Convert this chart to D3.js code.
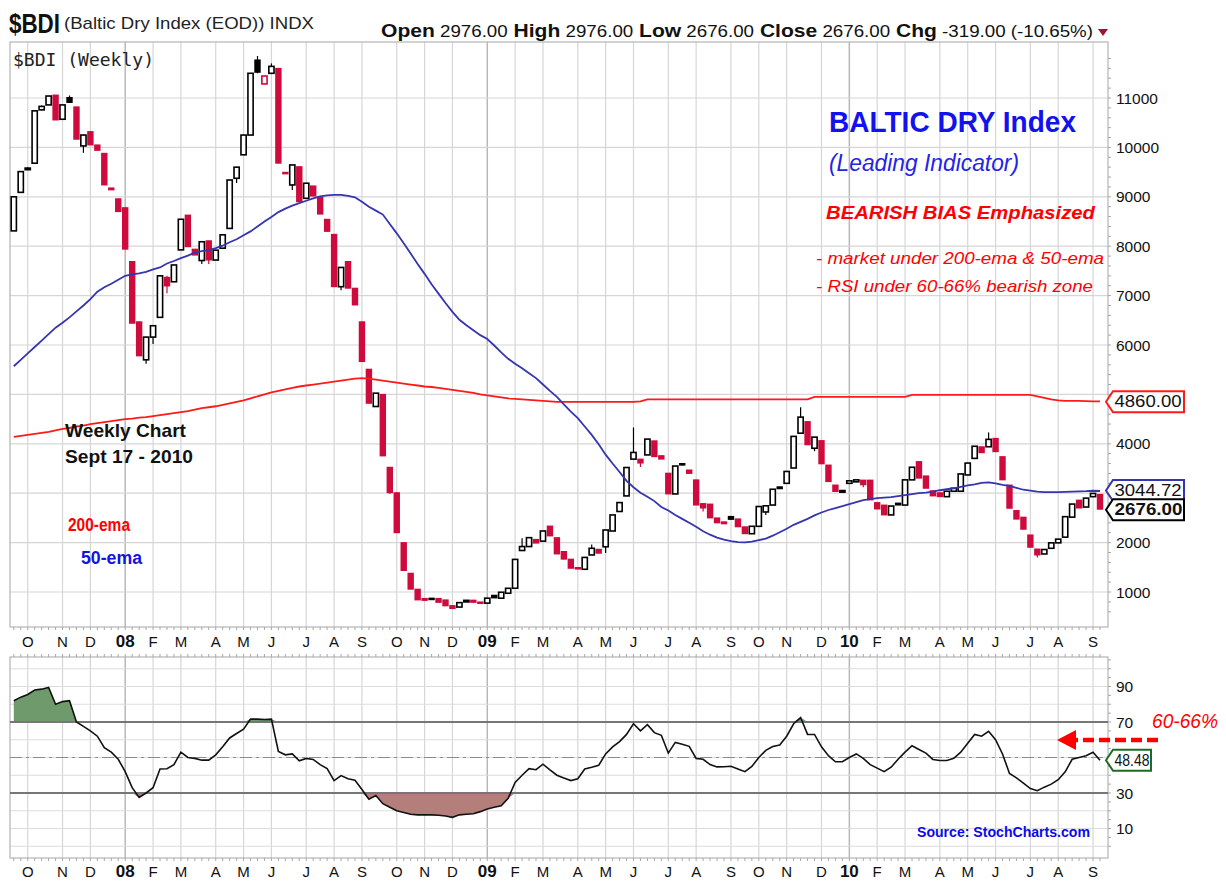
<!DOCTYPE html>
<html><head><meta charset="utf-8">
<script src="https://cdn.jsdelivr.net/npm/d3@7"></script>
<style>
html,body{margin:0;padding:0;background:#fff;}
svg{display:block;font-family:"Liberation Sans",Arial,sans-serif;}
</style></head><body>
<svg id="chart" width="1226" height="890"></svg>
<script>
// ---------------- DATA (weekly, Mon 17 Sep 2007 .. Mon 13 Sep 2010) ----------------
const firstWeek = "2007-09-17";
const usMondayHolidays = ["2010-05-31"]; // weekly bar dated by first trading day
const opens = [8310,9090,9550,9680,10760,10860,11060,10570,11010,10820,10030,10320,10050,9880,9180,8960,
 8780,7690,6470,5700,6160,6560,7370,7280,7925,8630,7940,7710,8110,7720,7960,8360,
 9375,9850,10250,11770,11285,11500,11600,9490,9240,9610,8970,9220,9000,8545,8240,7180,
 7690,7150,6470,5510,4755,5000,3525,3010,2000,1380,1057,870,875,870,840,725,
 695,800,835,790,775,935,875,975,1076,1840,1920,2065,2030,2335,2100,1820,
 1665,1490,1460,1750,1865,1915,2235,2630,2945,3690,3690,3775,4060,3760,3405,2985,
 3600,3470,3270,2790,2780,2500,2420,2530,2480,2320,2180,2330,2620,2760,3130,3200,
 3510,4215,4450,3910,4065,3570,3165,3035,3200,3230,3265,3265,2810,2760,2560,2800,
 2760,3270,3640,3350,3050,3010,2930,3040,3040,3370,3705,3940,3940,4110,3740,3165,
 2650,2515,2155,1870,1770,1885,1995,2110,2515,2860,2720,2930,2976];
const highs = [9000,9510,9600,10740,10850,11040,11060,10860,11050,10820,10260,10320,10050,9880,9180,8960,
 8780,7690,6470,6160,6400,7400,7400,7620,8545,8630,7940,8090,8110,7920,8230,9340,
 9600,10250,11500,11850,11450,11700,11600,9490,9645,9610,9275,9220,9000,8545,8240,7570,
 7690,7150,6470,5510,5025,5000,3525,3010,2000,1380,1057,870,875,870,840,725,
 785,830,835,790,875,935,995,1075,1660,2090,2100,2065,2235,2335,2100,1820,
 1665,1490,1700,1960,1865,2255,2560,2810,3520,4330,3690,4095,4060,3760,3405,3550,
 3600,3470,3270,2790,2780,2500,2420,2530,2480,2320,2330,2730,2745,3080,3130,3440,
 4150,4740,4450,4135,4065,3570,3165,3050,3250,3270,3265,3265,2810,2760,2740,2800,
 3270,3525,3640,3350,3050,3010,3040,3100,3390,3610,3950,3940,4230,4110,3740,3165,
 2650,2515,2155,1870,1860,1995,2070,2525,2780,2860,2900,2995,2976];
const lows = [8310,9090,9540,9680,10750,10860,10555,10570,10900,10165,9890,10050,9940,9240,9140,8700,
 7940,6440,5780,5620,6020,6560,7050,7280,7925,7990,7820,7640,7640,7720,7960,8360,
 9280,9850,10250,11500,11280,11500,9680,9460,9140,8900,8970,9015,8650,8300,7180,7110,
 7150,6810,5665,4820,4755,3755,2990,2200,1435,1057,840,830,845,790,720,665,
 695,800,790,775,775,880,875,975,1076,1840,1920,1990,2030,2135,1770,1665,
 1480,1470,1460,1750,1785,1790,2235,2630,2945,3690,3530,3775,3740,3690,2985,2985,
 3560,3400,2760,2630,2500,2400,2380,2470,2320,2180,2180,2330,2560,2760,3090,3200,
 3510,4215,3980,3850,3595,3235,3035,3020,3200,3230,3120,2865,2680,2560,2560,2760,
 2760,3270,3305,3100,2945,2930,2930,3040,3040,3370,3705,3820,3940,3840,3270,2695,
 2475,2270,1905,1700,1770,1885,1995,2110,2515,2700,2720,2930,2676];
const closes = [9000,9510,9580,10740,10830,11040,10555,10860,10910,10165,10250,10050,9940,9240,9140,8700,
 7940,6440,5780,6160,6390,7400,7195,7620,8545,7990,7820,8090,7720,7920,8230,9340,
 9600,10250,11500,11520,11445,11640,9680,9470,9645,8900,9275,9015,8650,8300,7180,7570,
 7150,6810,5665,4820,5025,3755,3010,2200,1435,1057,840,830,845,790,720,665,
 785,830,790,775,875,880,995,1075,1660,1920,2100,1990,2235,2135,1770,1665,
 1480,1470,1700,1885,1785,2255,2560,2810,3520,3825,3610,4095,3740,3690,2985,3550,
 3570,3400,2760,2700,2500,2400,2380,2470,2320,2180,2330,2730,2745,3080,3090,3440,
 4150,4540,3980,4135,3595,3235,3035,3040,3250,3270,3170,2865,2680,2560,2740,2760,
 3270,3525,3305,3100,2945,2930,3040,3100,3390,3610,3950,3820,4090,3840,3270,2695,
 2475,2270,1905,1750,1860,1995,2070,2525,2780,2700,2900,2995,2676];
const ema50 = [5570,5700,5830,5960,6090,6220,6350,6450,6560,6680,6800,6930,7080,7170,7240,7320,
 7400,7430,7450,7480,7530,7570,7650,7700,7760,7810,7870,7900,7920,7960,8010,8080,
 8140,8220,8300,8400,8500,8590,8690,8760,8820,8870,8920,8970,9010,9030,9040,9040,
 9020,8990,8900,8800,8720,8640,8450,8260,8060,7850,7640,7440,7230,7040,6850,6670,
 6510,6400,6300,6200,6120,5990,5850,5720,5620,5530,5430,5330,5200,5070,4950,4800,
 4650,4520,4350,4180,3990,3780,3600,3430,3250,3120,3010,2930,2840,2720,2650,2560,
 2480,2400,2320,2230,2160,2100,2060,2030,2010,2005,2020,2050,2080,2140,2210,2280,
 2360,2420,2480,2550,2610,2660,2700,2740,2780,2820,2860,2880,2900,2910,2920,2940,
 2960,2980,3000,3010,3030,3060,3080,3100,3130,3160,3180,3210,3220,3200,3170,3150,
 3110,3070,3050,3030,3020,3020,3020,3025,3030,3035,3040,3050,3045];
const ema200 = [4140,4160,4180,4200,4220,4240,4270,4300,4320,4350,4370,4400,4420,4440,4460,4480,
 4500,4510,4530,4540,4560,4580,4600,4620,4640,4660,4690,4720,4740,4760,4790,4820,
 4850,4880,4920,4960,5000,5040,5070,5100,5130,5160,5180,5200,5220,5240,5260,5280,
 5300,5320,5330,5320,5300,5280,5260,5240,5220,5200,5180,5160,5150,5130,5110,5090,
 5070,5050,5030,5000,4980,4960,4940,4920,4910,4900,4890,4880,4870,4860,4850,4850,
 4850,4850,4850,4850,4850,4850,4850,4850,4850,4850,4860,4900,4900,4900,4900,4900,
 4900,4900,4900,4900,4900,4900,4900,4900,4900,4900,4900,4900,4900,4900,4900,4900,
 4900,4900,4900,4950,4950,4950,4950,4950,4950,4950,4950,4950,4950,4950,4950,4950,
 4950,4990,4990,4990,4990,4990,4990,4990,4990,4990,4990,4990,4990,4990,4990,4990,
 4990,4990,4990,4960,4930,4900,4880,4870,4870,4870,4865,4860,4860];
const rsi = [82,84,85.5,88,88.5,89.5,80,81.5,82,70,67.5,65,62,55.5,53,49,
 42,33,27.5,30,33,43.5,43.7,46,53,50,49.5,48.5,48.5,51.5,56,61,
 63.5,66,71.6,71.6,71.4,71.6,53.4,51.5,52,48.1,49.5,48.9,46,43.7,37,39.8,
 38,37.2,32,26.5,28.6,24,22,20,19,18,17.7,17.7,17.7,17.5,17,16.3,
 17.7,18,18.3,19.5,21,22,22.8,27,36,40,43.7,43.1,46.2,43,40,38.5,
 37,38,43.5,44.5,45.6,52,56,59,63,69,65,68.5,64,62.5,52.5,58.5,
 57.5,56.3,49.5,49,46,44.7,44.8,45.1,43.5,42,45,50,54,56.2,57,62,
 69,72.5,63,63,56,51,47.6,47.6,50,52,49.5,46,44,42,44.5,49,
 53,56.6,54.5,52.5,48.9,48.3,48.3,49.5,53,58,63,62,64.8,60,52,41,
 38.5,35.5,32.5,31.3,33.3,35,37.5,41.9,49,50,51,53,48.48];

const priceTicks = [1000,2000,3000,4000,5000,6000,7000,8000,9000,10000,11000];
const rsiTicks = [90,70,30,10];
const rsiGrid = [0,10,20,30,40,50,60,70,80,90,100];
const monthLetters = ["J","F","M","A","M","J","J","A","S","O","N","D"];
const headerItems = [["Open","2976.00"],["High","2976.00"],["Low","2676.00"],["Close","2676.00"],["Chg","-319.00 (-10.65%)"]];
const tagValues = {ema200: 4860.00, ema50: 3044.72, close: 2676.00, rsi: 48.48};

// ---------------- LAYOUT ----------------
const svg = d3.select("#chart");
const RED = "#cf0a3c";
const P = {left:10, right:1108, top:42, bottom:627};
const R = {top:657, bottom:858};
const n = closes.length;

const parse = d3.timeParse("%Y-%m-%d");
const fmt = d3.timeFormat("%Y-%m-%d");
const dates = d3.range(n).map(i => {
  let d = d3.timeMonday.offset(parse(firstWeek), i);
  if (usMondayHolidays.includes(fmt(d))) d = d3.timeDay.offset(d, 1);
  return d;
});

const x = d3.scalePoint().domain(d3.range(n)).range([13.8, 1100]);
const y = d3.scaleLinear().domain([1000, 11000]).range([592, 98]);
const yr = d3.scaleLinear().domain([30, 70]).range([793, 722]);

const months = [];
for (let i = 1; i < n; i++) {
  if (dates[i].getMonth() !== dates[i-1].getMonth()) {
    const m = dates[i].getMonth();
    months.push({i, label: m === 0 ? d3.timeFormat("%y")(dates[i]) : monthLetters[m], year: m === 0});
  }
}

const defs = svg.append("defs");
defs.append("clipPath").attr("id","pclip").append("rect")
  .attr("x",P.left).attr("y",P.top).attr("width",P.right-P.left).attr("height",P.bottom-P.top);
defs.append("clipPath").attr("id","rclip").append("rect")
  .attr("x",P.left).attr("y",R.top).attr("width",P.right-P.left).attr("height",R.bottom-R.top);

// ---- grids ----
const grid = svg.append("g");
[[P.top,P.bottom],[R.top,R.bottom]].forEach(([t,b]) => {
  grid.selectAll(null).data(months).enter().append("line")
    .attr("x1",d=>x(d.i)).attr("x2",d=>x(d.i)).attr("y1",t).attr("y2",b)
    .attr("stroke",d=>d.year?"#b8b8b8":"#d6d6d6").attr("stroke-width",d=>d.year?1.5:1.2);
});
grid.selectAll(null).data(priceTicks).enter().append("line")
  .attr("x1",P.left).attr("x2",P.right).attr("y1",d=>y(d)).attr("y2",d=>y(d))
  .attr("stroke","#d6d6d6").attr("stroke-width",1.2);
grid.selectAll(null).data(rsiGrid).enter().append("line")
  .attr("x1",P.left).attr("x2",P.right).attr("y1",d=>yr(d)).attr("y2",d=>yr(d))
  .attr("stroke","#dcdcdc").attr("stroke-width",1.2);

svg.append("rect").attr("x",P.left).attr("y",P.top).attr("width",P.right-P.left).attr("height",P.bottom-P.top)
  .attr("fill","none").attr("stroke","#b4b4b4").attr("stroke-width",1.2);
svg.append("rect").attr("x",P.left).attr("y",R.top).attr("width",P.right-P.left).attr("height",R.bottom-R.top)
  .attr("fill","none").attr("stroke","#b4b4b4").attr("stroke-width",1.2);

// weekly tick marks
const ticks = svg.append("g").attr("stroke","#a8a8a8").attr("stroke-width",1);
d3.range(n).forEach(i => {
  ticks.append("line").attr("x1",x(i)).attr("x2",x(i)).attr("y1",P.bottom).attr("y2",P.bottom+3);
  ticks.append("line").attr("x1",x(i)).attr("x2",x(i)).attr("y1",R.top-3).attr("y2",R.top);
  ticks.append("line").attr("x1",x(i)).attr("x2",x(i)).attr("y1",R.bottom).attr("y2",R.bottom+3);
});
d3.range(600, 12000, 200).forEach(v => {
  if (y(v) > P.top && y(v) < P.bottom)
    ticks.append("line").attr("x1",P.right).attr("x2",P.right+3).attr("y1",y(v)).attr("y2",y(v));
});
d3.range(0, 106, 5).forEach(v => {
  ticks.append("line").attr("x1",P.right).attr("x2",P.right+3).attr("y1",yr(v)).attr("y2",yr(v));
});

// ---- price panel ----
const pg = svg.append("g").attr("clip-path","url(#pclip)");
pg.selectAll("g.c").data(d3.range(n)).enter().append("g").each(function(i){
  const g = d3.select(this);
  const o = opens[i], c = closes[i], h = highs[i], l = lows[i];
  const prev = i > 0 ? closes[i-1] : o;
  const col = c >= prev ? "#000" : RED;
  const hollow = c > o;
  const cx = x(i);
  g.append("line").attr("x1",cx).attr("x2",cx).attr("y1",y(h)).attr("y2",y(l))
    .attr("stroke",col).attr("stroke-width",1.2);
  let top = y(Math.max(o,c)), bot = y(Math.min(o,c));
  if (bot - top < 1.6) { const m=(top+bot)/2; top=m-0.8; bot=m+0.8; }
  if (hollow) {
    g.append("rect").attr("x",cx-2.6).attr("y",top).attr("width",5.2).attr("height",bot-top)
      .attr("fill","#fff").attr("stroke",col).attr("stroke-width",1.6);
  } else {
    g.append("rect").attr("x",cx-3.2).attr("y",top-0.5).attr("width",6.4).attr("height",bot-top+1)
      .attr("fill",col);
  }
});
const lineP = d3.line().x((d,i)=>x(i)).y(d=>y(d));
pg.append("path").datum(ema200).attr("d",lineP).attr("fill","none").attr("stroke","#ff1a1a").attr("stroke-width",1.8);
pg.append("path").datum(ema50).attr("d",lineP).attr("fill","none").attr("stroke","#3535b0").attr("stroke-width",1.8);

// ---- RSI panel ----
const rg = svg.append("g").attr("clip-path","url(#rclip)");
rg.append("path").datum(rsi)
  .attr("d", d3.area().x((d,i)=>x(i)).y0(yr(70)).y1(d=>yr(Math.max(d,70))))
  .attr("fill","#6e9a6c");
rg.append("path").datum(rsi)
  .attr("d", d3.area().x((d,i)=>x(i)).y0(yr(30)).y1(d=>yr(Math.min(d,30))))
  .attr("fill","#b47e7a");
[70,30].forEach(v => rg.append("line").attr("x1",P.left).attr("x2",P.right).attr("y1",yr(v)).attr("y2",yr(v))
  .attr("stroke","#767676").attr("stroke-width",2));
rg.append("line").attr("x1",P.left).attr("x2",P.right).attr("y1",yr(50)).attr("y2",yr(50))
  .attr("stroke","#8c8c8c").attr("stroke-width",1.2).attr("stroke-dasharray","12,4,3,4");
rg.append("path").datum(rsi).attr("d", d3.line().x((d,i)=>x(i)).y(d=>yr(d)))
  .attr("fill","none").attr("stroke","#111").attr("stroke-width",1.6);

// ---- text helper ----
const T = (g, px, py, str, o={}) => {
  const t = g.append("text").attr("x",px).attr("y",py).text(str)
    .attr("font-size",o.size||15).attr("fill",o.fill||"#111");
  if (o.weight) t.attr("font-weight",o.weight);
  if (o.style) t.attr("font-style",o.style);
  if (o.family) t.attr("font-family",o.family);
  if (o.anchor) t.attr("text-anchor",o.anchor);
  if (o.len) t.attr("textLength",o.len).attr("lengthAdjust","spacingAndGlyphs");
  return t;
};

// ---- axis labels ----
const ax = svg.append("g");
[647, 877].forEach(by => {
  months.forEach(m => T(ax, x(m.i), by, m.label, {anchor:"middle", size: m.year?17:15, weight: m.year?"bold":null}));
});
// price labels that sit under a value tag are hidden by that tag in the reference
const tagYs = [y(tagValues.ema200), y(tagValues.ema50), y(tagValues.close)];
priceTicks.filter(v => tagYs.every(ty => Math.abs(y(v) - ty) > 11))
  .forEach(v => T(ax, 1116, y(v)+5.5, d3.format("d")(v), {size:15.5}));
rsiTicks.forEach(v => T(ax, 1116, yr(v)+5.5, String(v), {size:15.5}));

// ---- value tags ----
function tag(cy, text, stroke, opt={}) {
  const g = svg.append("g");
  const x0 = 1106, x1 = 1113, x2 = opt.right || 1184, h = opt.h || 10.5;
  g.append("path").attr("d",`M${x0},${cy} L${x1},${cy-h} L${x2},${cy-h} L${x2},${cy+h} L${x1},${cy+h} Z`)
    .attr("fill","#fff").attr("stroke",stroke).attr("stroke-width",2);
  T(g, x1+1.5, cy+5.5, text, {size: opt.size||16, weight: opt.bold?"bold":null, len: opt.len});
}
tag(y(tagValues.ema200)+0.5, d3.format(".2f")(tagValues.ema200), "#ff1a1a", {len:67});
tag(y(tagValues.ema50)-0.5, d3.format(".2f")(tagValues.ema50), "#3535b0", {len:67});
tag(y(tagValues.close)+0.5, d3.format(".2f")(tagValues.close), "#000", {bold:true, len:68, size:17});
tag(yr(tagValues.rsi), d3.format(".2f")(tagValues.rsi), "#1f6b26", {right:1151, len:35, size:16.5});

// ---- header ----
T(svg, 9, 33, "$BDI", {size:27, weight:"bold", len:51});
T(svg, 64, 29, "(Baltic Dry Index (EOD)) INDX", {size:17, len:250, fill:"#222"});
const hdr = svg.append("text").attr("x",381).attr("y",37).attr("fill","#111")
  .attr("textLength",712).attr("lengthAdjust","spacingAndGlyphs");
headerItems.forEach((d,k) => {
  hdr.append("tspan").attr("font-weight","bold").attr("font-size",18).text((k?"  ":"")+d[0]);
  hdr.append("tspan").attr("font-size",16).text(" "+d[1]);
});
svg.append("path").attr("d","M1098,29 L1108,29 L1103,36 Z").attr("fill","#a0103a");
T(svg, 13, 66, "$BDI (Weekly)", {size:17, family:"DejaVu Sans Mono", len:141, fill:"#222"});

// ---- annotations ----
T(svg, 829, 132, "BALTIC DRY Index", {size:30, weight:"bold", fill:"#1212ee", len:247});
T(svg, 829, 171, "(Leading Indicator)", {size:23, style:"italic", fill:"#2424e6", len:190});
T(svg, 826, 219, "BEARISH BIAS Emphasized", {size:19, weight:"bold", style:"italic", fill:"#ff0000", len:269});
T(svg, 816, 264, "- market under 200-ema & 50-ema", {size:17, style:"italic", fill:"#ff0000", len:288});
T(svg, 816, 292, "- RSI under 60-66% bearish zone", {size:17, style:"italic", fill:"#ff0000", len:277});
T(svg, 65, 437, "Weekly Chart", {size:19, weight:"bold", fill:"#111", len:121});
T(svg, 65, 463, "Sept 17 - 2010", {size:19, weight:"bold", fill:"#111", len:128});
T(svg, 68, 531, "200-ema", {size:18, weight:"bold", fill:"#ff0000", len:62});
T(svg, 81, 564, "50-ema", {size:18, weight:"bold", fill:"#1414e0", len:61});
T(svg, 917, 837, "Source: StochCharts.com", {size:15, weight:"bold", fill:"#0a0aee", len:173});
T(svg, 1152, 728, "60-66%", {size:21, style:"italic", fill:"#ff0000", len:66});

// dashed arrow
svg.append("line").attr("x1",1158).attr("x2",1074).attr("y1",740).attr("y2",740)
  .attr("stroke","#ff0000").attr("stroke-width",4.5).attr("stroke-dasharray","11,5");
svg.append("path").attr("d","M1057,740 L1076,730 L1076,750 Z").attr("fill","#ff0000");
</script>
</body></html>
